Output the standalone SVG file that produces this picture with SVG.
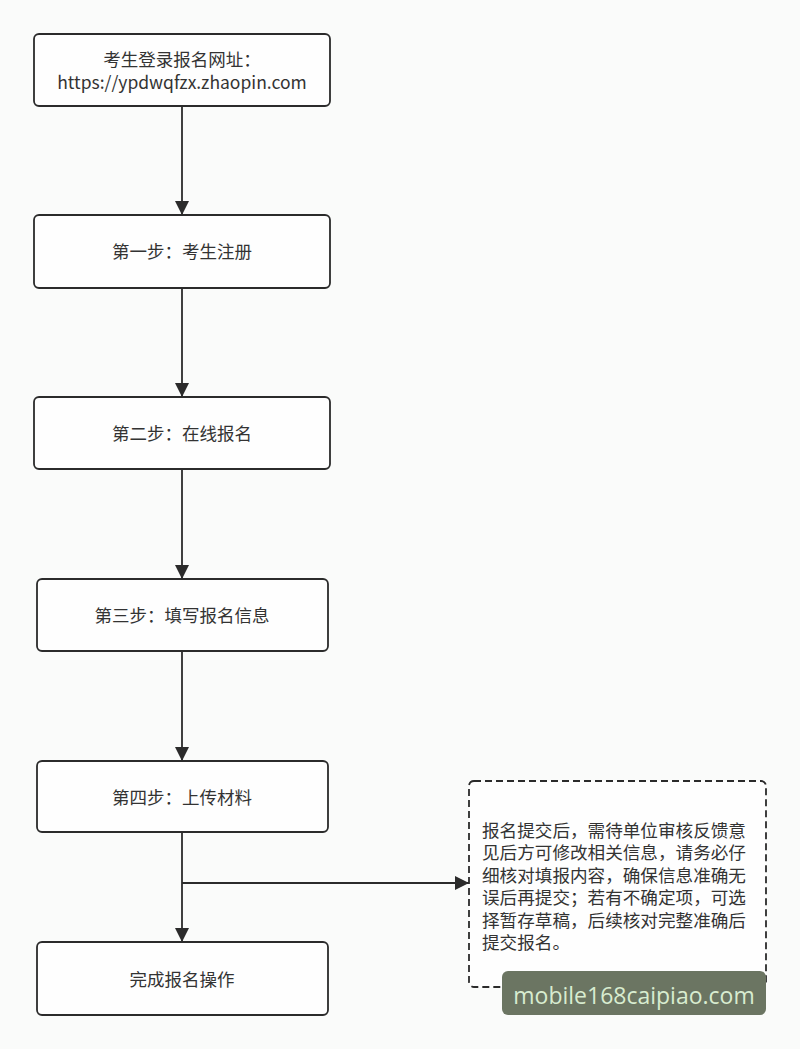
<svg xmlns="http://www.w3.org/2000/svg" width="800" height="1049" viewBox="0 0 800 1049">
<style>
.node rect{fill:#fefefe;stroke:#2b2b2b;stroke-width:1.8}
.t{font-family:"Noto Sans CJK SC","Liberation Sans",sans-serif;font-size:17.5px;fill:#333;text-anchor:middle}
.n{font-family:"Noto Sans CJK SC","Liberation Sans",sans-serif;font-size:17.6px;fill:#333}
.c{stroke:#2b2b2b;stroke-width:1.8;fill:none}
</style>
<defs>
<marker id="ah" viewBox="0 0 10 10" refX="10" refY="5" markerWidth="14" markerHeight="14" markerUnits="userSpaceOnUse" orient="auto">
<path d="M0,0 L10,5 L0,10 Z" fill="#2b2b2b"/>
</marker>
</defs>
<rect width="800" height="1049" fill="#fafbfa"/>
<g id="connectors">
<path class="c" d="M182,106 V215" marker-end="url(#ah)"/>
<path class="c" d="M182,288 V397" marker-end="url(#ah)"/>
<path class="c" d="M182,469 V579" marker-end="url(#ah)"/>
<path class="c" d="M182,651 V761" marker-end="url(#ah)"/>
<path class="c" d="M182,832 V942" marker-end="url(#ah)"/>
<path class="c" d="M182,883 H469" marker-end="url(#ah)"/>
</g>
<g id="n0" class="node"><rect x="34" y="34" width="296" height="72" rx="5"/>
<text class="t" x="182" y="66">考生登录报名网址：</text>
<text class="t" x="182" y="89">https://ypdwqfzx.zhaopin.com</text></g>
<g id="n1" class="node"><rect x="34" y="215" width="296" height="73" rx="5"/>
<text class="t" x="182" y="258">第一步：考生注册</text></g>
<g id="n2" class="node"><rect x="34" y="397" width="296" height="72" rx="5"/>
<text class="t" x="182" y="440">第二步：在线报名</text></g>
<g id="n3" class="node"><rect x="37" y="579" width="291" height="72" rx="5"/>
<text class="t" x="182" y="622">第三步：填写报名信息</text></g>
<g id="n4" class="node"><rect x="37" y="761" width="291" height="71" rx="5"/>
<text class="t" x="182" y="804">第四步：上传材料</text></g>
<g id="n5" class="node"><rect x="37" y="942" width="291" height="73" rx="5"/>
<text class="t" x="182" y="986">完成报名操作</text></g>
<g id="note"><rect x="469" y="781" width="297" height="206" rx="5" fill="#fefefe" stroke="#2b2b2b" stroke-width="1.8" stroke-dasharray="7,4"/>
<text class="n"><tspan x="482" y="837">报名提交后，需待单位审核反馈意</tspan><tspan x="482" y="859">见后方可修改相关信息，请务必仔</tspan><tspan x="482" y="882">细核对填报内容，确保信息准确无</tspan><tspan x="482" y="904">误后再提交；若有不确定项，可选</tspan><tspan x="482" y="927">择暂存草稿，后续核对完整准确后</tspan><tspan x="482" y="949">提交报名。</tspan></text></g>
<g id="watermark"><rect x="502" y="971" width="264" height="44" rx="6" fill="#6b7562"/>
<text x="634" y="1004" font-family="'Open Sans','DejaVu Sans',sans-serif" font-size="23" fill="#d8ecd0" text-anchor="middle">mobile168caipiao.com</text></g>
</svg>
